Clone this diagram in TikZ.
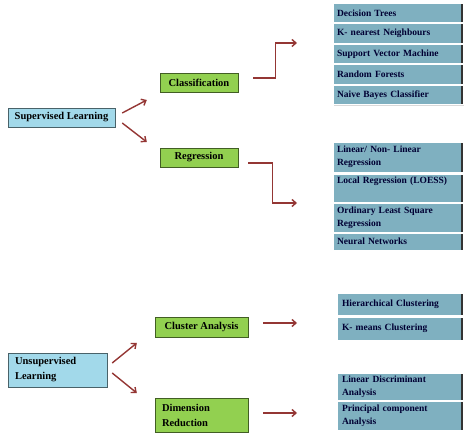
\documentclass[tikz,border=0pt]{standalone}
\usepackage{fontspec}
\setmainfont{Liberation Serif}
\usetikzlibrary{arrows.meta,shadows}
\definecolor{supblue}{HTML}{A2D9EA}
\definecolor{catgreen}{HTML}{92D050}
\definecolor{listblue}{HTML}{7FB0C0}
\definecolor{arrowred}{HTML}{943634}

\begin{document}
\begin{tikzpicture}[x=1pt, y=-1pt, >={Straight Barb[length=4pt,width=7pt]},
    learn/.style={draw=supblue!45!black, fill=supblue, inner sep=0pt,
        font=\fontsize{10.5}{15}\selectfont\bfseries,
        drop shadow={shadow xshift=1pt, shadow yshift=-1pt, opacity=0.35}},
    cat/.style={learn, draw=catgreen!45!black, fill=catgreen},
    item/.style={draw=white, line width=0.8pt, fill=listblue, inner xsep=4pt, inner ysep=0pt,
        text width=122pt, align=left, text=black!80!blue,
        font=\fontsize{9.5}{13}\selectfont\bfseries,
        path picture={\draw[line width=3.5pt, black!80]
            (path picture bounding box.north east) -- (path picture bounding box.south east);},
        drop shadow={shadow xshift=0.5pt, shadow yshift=-1.5pt, opacity=0.3}},
    arr/.style={->, draw=arrowred, line width=1.4pt}]

    \useasboundingbox (0,0) rectangle (474,443);

    % 1. 监督学习
    \node[learn, minimum width=107pt, minimum height=19pt] (sup) at (61.5,117.5) {Supervised Learning};
    \node[cat, minimum width=78pt, minimum height=19pt] (cls) at (199,82.5) {Classification};
    \node[cat, minimum width=78pt, minimum height=19pt] (reg) at (199,157.5) {Regression};

    % 2. 分类方法
    \foreach \name [count=\i from 0] in {Decision Trees, K- nearest Neighbours,
        Support Vector Machine, Random Forests, Naive Bayes Classifier}
        \node[item, minimum width=130pt, minimum height=19.5pt] (c\i) at (398, {13+20.5*\i}) {\name};

    % 3. 回归方法
    \node[item, minimum width=130pt, minimum height=30pt] (r0) at (398,157) {Linear/ Non- Linear\\Regression};
    \node[item, minimum width=130pt, minimum height=28pt, text depth=15pt] (r1) at (398,188) {Local Regression (LOESS)};
    \node[item, minimum width=130pt, minimum height=29pt] (r2) at (398,217.5) {Ordinary Least Square\\Regression};
    \node[item, minimum width=130pt, minimum height=17pt] (r3) at (398,241.5) {Neural Networks};

    % 4. 无监督学习
    \node[learn, minimum width=99pt, minimum height=34pt, text width=85pt, align=left] (uns) at (57.5,370) {Unsupervised\\Learning};
    \node[cat, minimum width=93pt, minimum height=20pt] (clu) at (201.5,327) {Cluster Analysis};
    \node[cat, minimum width=93pt, minimum height=34pt, text width=79pt, align=left] (dim) at (201.5,415) {Dimension\\Reduction};

    \node[item, minimum width=126pt, minimum height=22pt, text width=116pt] (u0) at (400,304) {Hierarchical Clustering};
    \node[item, minimum width=126pt, minimum height=23pt, text width=116pt] (u1) at (400,328.5) {K- means Clustering};
    \node[item, minimum width=126pt, minimum height=27pt, text width=116pt] (d0) at (400,386.5) {Linear Discriminant\\Analysis};
    \node[item, minimum width=126pt, minimum height=29pt, text width=116pt] (d1) at (400,415.5) {Principal component\\Analysis};

    % 5. 箭头
    \coordinate (clsend) at (297,43);
    \coordinate (regend) at (297,203);
    \coordinate (cluend) at (297,323);
    \coordinate (dimend) at (297,413);

    \draw[arr] ([xshift=7pt,yshift=4.5pt]sup.east) -- ([xshift=-13pt,yshift=-17.5pt]cls.west);
    \draw[arr] ([xshift=7pt,yshift=-5.5pt]sup.east) -- ([xshift=-13pt,yshift=15.5pt]reg.west);
    \draw[arr] ([xshift=15pt,yshift=4.5pt]cls.east) -- ++(22,0) |- (clsend);
    \draw[arr] ([xshift=10pt,yshift=-5.5pt]reg.east) -- ++(24,0) |- (regend);

    \draw[arr] ([xshift=5pt,yshift=7pt]uns.east) -- ([xshift=-18pt,yshift=-16pt]clu.west);
    \draw[arr] ([xshift=5pt,yshift=-3pt]uns.east) -- ([xshift=-18pt,yshift=22pt]dim.west);
    \draw[arr] ([xshift=15pt,yshift=4pt]clu.east) -- (cluend);
    \draw[arr] ([xshift=15pt,yshift=2pt]dim.east) -- (dimend);
\end{tikzpicture}
\end{document}
